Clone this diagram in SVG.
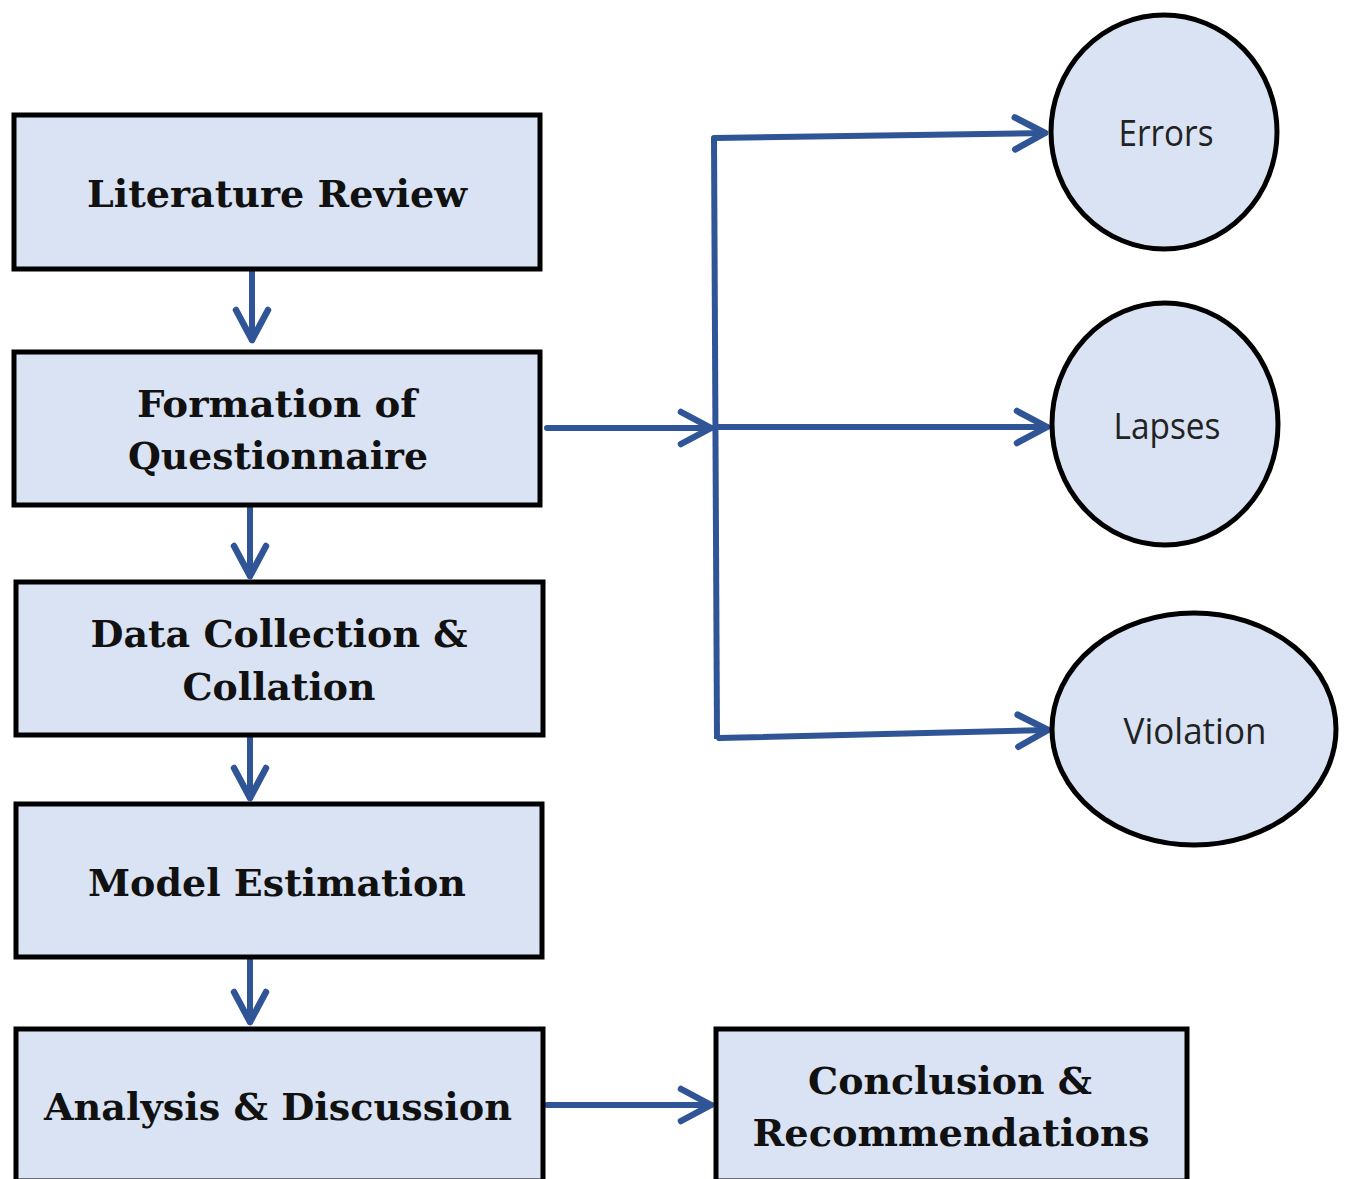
<svg xmlns="http://www.w3.org/2000/svg" width="1348" height="1179" viewBox="0 0 1348 1179">
<style>
.box{fill:#DAE3F3;stroke:#000;stroke-width:5}
.t{font-family:"DejaVu Serif","Liberation Serif",serif;font-weight:bold;font-size:38px;fill:#111;text-anchor:middle}
.c{font-family:"Open Sans","Noto Sans","Liberation Sans",sans-serif;font-size:37px;fill:#222;text-anchor:middle}
.ln{fill:none;stroke:#2F5597;stroke-width:6;stroke-linecap:round;stroke-linejoin:round}
</style>
<defs>
<marker id="ah" markerUnits="userSpaceOnUse" markerWidth="60" markerHeight="60" refX="0" refY="0" viewBox="-40 -30 50 60" orient="auto" overflow="visible">
<path d="M-30,-16 L0,0 L-30,16" fill="none" stroke="#2F5597" stroke-width="6.5" stroke-linecap="round" stroke-linejoin="round"/>
</marker>
</defs>
<rect width="1348" height="1179" fill="#fff"/>
<g id="connectors">
<path class="ln" d="M252,271 V340" marker-end="url(#ah)"/>
<path class="ln" d="M250,507 V576" marker-end="url(#ah)"/>
<path class="ln" d="M250,737 V798" marker-end="url(#ah)"/>
<path class="ln" d="M250,959 V1022" marker-end="url(#ah)"/>
<path class="ln" d="M547,428 H711" marker-end="url(#ah)"/>
<path class="ln" d="M714,138 L717,739" style="stroke-linecap:butt"/>
<path class="ln" d="M714,138 L1045,133" marker-end="url(#ah)"/>
<path class="ln" d="M716,427 L1047,427" marker-end="url(#ah)"/>
<path class="ln" d="M719,738 L1048,730" marker-end="url(#ah)"/>
<path class="ln" d="M547,1105 H711" marker-end="url(#ah)"/>
</g>
<g id="literature-review">
<rect class="box" x="14" y="115" width="526" height="154"/>
<text class="t" x="277" y="207" textLength="380" lengthAdjust="spacingAndGlyphs">Literature Review</text>
</g>
<g id="formation-questionnaire">
<rect class="box" x="14" y="352" width="526" height="153"/>
<text class="t" x="277" y="417" textLength="280" lengthAdjust="spacingAndGlyphs">Formation of</text>
<text class="t" x="278" y="469" textLength="300" lengthAdjust="spacingAndGlyphs">Questionnaire</text>
</g>
<g id="data-collection">
<rect class="box" x="16" y="582" width="527" height="153"/>
<text class="t" x="279" y="647" textLength="377" lengthAdjust="spacingAndGlyphs">Data Collection &amp;</text>
<text class="t" x="279" y="700" textLength="193" lengthAdjust="spacingAndGlyphs">Collation</text>
</g>
<g id="model-estimation">
<rect class="box" x="16" y="804" width="526" height="153"/>
<text class="t" x="277" y="896" textLength="378" lengthAdjust="spacingAndGlyphs">Model Estimation</text>
</g>
<g id="analysis-discussion">
<rect class="box" x="16" y="1029" width="527" height="152"/>
<text class="t" x="278" y="1120" textLength="468" lengthAdjust="spacingAndGlyphs">Analysis &amp; Discussion</text>
</g>
<g id="conclusion">
<rect class="box" x="716" y="1029" width="471" height="152"/>
<text class="t" x="950" y="1094" textLength="284" lengthAdjust="spacingAndGlyphs">Conclusion &amp;</text>
<text class="t" x="951" y="1146" textLength="397" lengthAdjust="spacingAndGlyphs">Recommendations</text>
</g>
<g id="errors">
<ellipse class="box" cx="1164" cy="132" rx="113" ry="117"/>
<text class="c" x="1166" y="146" textLength="95" lengthAdjust="spacingAndGlyphs">Errors</text>
</g>
<g id="lapses">
<ellipse class="box" cx="1165" cy="424" rx="113" ry="121"/>
<text class="c" x="1167" y="439" textLength="107" lengthAdjust="spacingAndGlyphs">Lapses</text>
</g>
<g id="violation">
<ellipse class="box" cx="1194" cy="729" rx="142" ry="116"/>
<text class="c" x="1195" y="744" textLength="143" lengthAdjust="spacingAndGlyphs">Violation</text>
</g>
</svg>
